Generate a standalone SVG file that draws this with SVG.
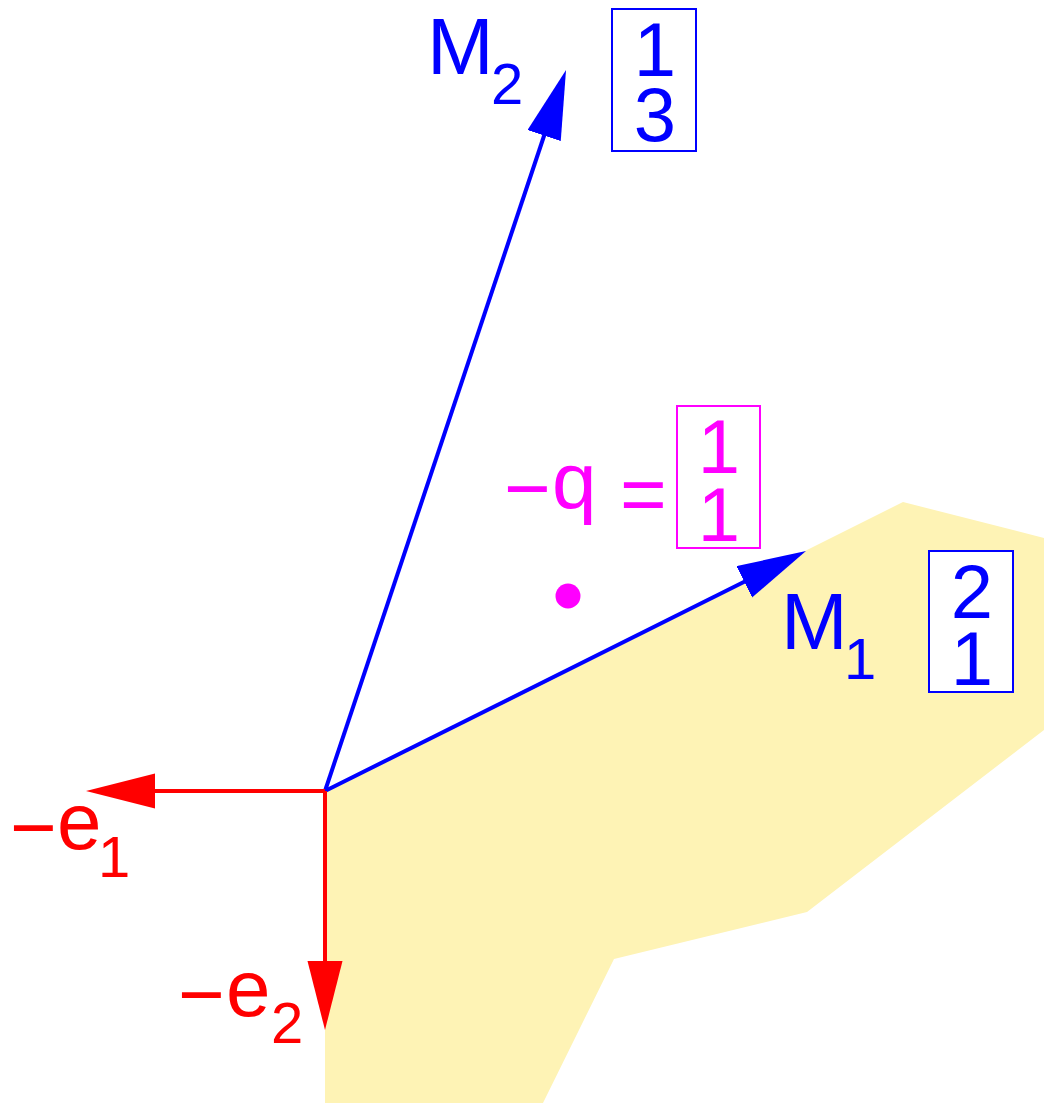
<svg xmlns="http://www.w3.org/2000/svg" width="1044" height="1103" viewBox="0 0 1044 1103">
<style>
text{font-family:"Liberation Sans",Arial,Helvetica,sans-serif}
.big{font-size:80px}
.sub{font-size:58px}
.dig{font-size:76px;text-anchor:middle}
.blue{fill:#0000ff}
.red{fill:#ff0000}
.mag{fill:#ff00ff}
.box{fill:#ffffff;stroke-width:2}
.vec{fill:none;stroke-width:4}
</style>
<defs>
<marker id="ab" markerUnits="userSpaceOnUse" markerWidth="70" markerHeight="36" refX="9" refY="17.5" orient="auto" viewBox="0 0 70 36">
<path d="M0,0 L69,17.5 L0,35 z" fill="#0000ff"/>
</marker>
<marker id="ar" markerUnits="userSpaceOnUse" markerWidth="70" markerHeight="36" refX="9" refY="17.5" orient="auto" viewBox="0 0 70 36">
<path d="M0,0 L69,17.5 L0,35 z" fill="#ff0000"/>
</marker>
</defs>
<rect width="1044" height="1103" fill="#ffffff"/>
<polygon id="region" points="325,791 903,502 1044,538 1044,730 807,912 614,959 543,1103 325,1103" fill="#fef3b5"/>
<g id="connectors">
<line x1="325" y1="791" x2="547" y2="127" class="vec" stroke="#0000ff" marker-end="url(#ab)"/>
<line x1="325" y1="791" x2="752.3" y2="577.8" class="vec" stroke="#0000ff" marker-end="url(#ab)"/>
<line x1="325" y1="791" x2="146" y2="791" class="vec" stroke="#ff0000" marker-end="url(#ar)"/>
<line x1="325" y1="791" x2="325" y2="970" class="vec" stroke="#ff0000" marker-end="url(#ar)"/>
</g>
<g id="M2">
<text class="big blue" x="427" y="74">M</text>
<text class="sub blue" x="491" y="104">2</text>
</g>
<g id="M2box">
<rect x="612" y="9" width="84" height="142" class="box" stroke="#0000ff"/>
<text class="dig blue" x="655" y="76">1</text>
<text class="dig blue" x="655" y="141">3</text>
</g>
<g id="M1">
<text class="big blue" x="781" y="649">M</text>
<text class="sub blue" x="844" y="679">1</text>
</g>
<g id="M1box">
<rect x="929" y="551" width="84" height="141" class="box" stroke="#0000ff"/>
<text class="dig blue" x="972" y="618">2</text>
<text class="dig blue" x="972" y="685">1</text>
</g>
<g id="q">
<text class="big mag" x="504" y="516">−</text>
<text class="big mag" x="552" y="508">q</text>
<text class="big mag" x="620" y="521">=</text>
<rect x="677" y="406" width="83" height="142" class="box" stroke="#ff00ff"/>
<text class="dig mag" x="719" y="473">1</text>
<text class="dig mag" x="719" y="541">1</text>
<circle cx="568" cy="596" r="12.5" fill="#ff00ff"/>
</g>
<g id="e1">
<text class="big red" x="10" y="855">−</text>
<text class="big red" x="57" y="849">e</text>
<text class="sub red" x="98" y="877">1</text>
</g>
<g id="e2">
<text class="big red" x="178" y="1022">−</text>
<text class="big red" x="226" y="1016">e</text>
<text class="sub red" x="271" y="1043">2</text>
</g>
</svg>
